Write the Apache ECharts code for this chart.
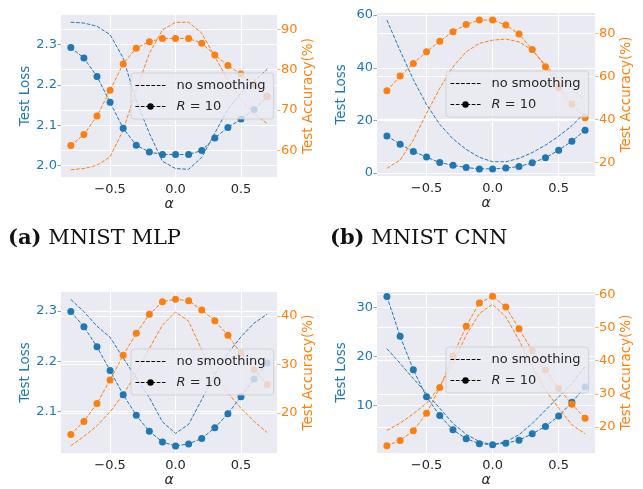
<!DOCTYPE html>
<html>
<head>
<meta charset="utf-8">
<script src="https://cdn.jsdelivr.net/npm/echarts@6/dist/echarts.min.js"></script>
<style>
html,body{margin:0;padding:0;background:#fff;}
#chart{width:643px;height:489px;}
</style>
</head>
<body>
<div id="chart"></div>
<script>
// ---------- data ----------
const alpha = [-0.8,-0.7,-0.6,-0.5,-0.4,-0.3,-0.2,-0.1,0.0,0.1,0.2,0.3,0.4,0.5,0.6,0.7];

// (a) MNIST MLP
const lossNoSmoothA = [2.356,2.354,2.346,2.325,2.267,2.160,2.080,2.010,1.992,1.990,2.020,2.080,2.140,2.180,2.210,2.239];
const lossR10A      = [2.293,2.267,2.221,2.157,2.092,2.050,2.033,2.027,2.027,2.027,2.037,2.068,2.094,2.115,2.139,2.171];
const accNoSmoothA  = [55.2,55.5,56.3,58.4,65.0,74.9,84.0,89.8,91.7,91.7,89.0,83.2,77.4,72.4,69.1,66.6];
const accR10A       = [61.2,63.9,68.5,74.9,81.4,85.3,86.9,87.7,87.7,87.7,86.5,83.6,81.0,78.9,76.3,73.3];

// (b) MNIST CNN
const lossNoSmoothB = [58.1,46.5,35.5,26.0,18.5,13.0,9.0,6.0,4.3,4.3,5.6,7.8,10.6,14.0,18.0,23.0];
const lossR10B      = [14.1,11.0,8.2,6.1,4.0,3.0,2.1,1.6,1.6,1.9,2.5,3.9,5.8,8.7,12.1,16.3];
const accNoSmoothB  = [17.4,21.2,30.5,42.9,54.5,64.5,71.5,75.4,76.9,77.4,76.1,72.3,65.3,59.1,54.5,49.1];
const accR10B       = [53.4,60.2,66.1,71.5,76.4,80.8,84.2,86.2,86.2,83.9,79.7,72.6,64.5,54.8,47.1,40.9];

// (c)
const lossNoSmoothC = [2.323,2.299,2.270,2.248,2.207,2.167,2.128,2.080,2.057,2.075,2.124,2.174,2.216,2.249,2.276,2.294];
const lossR10C      = [2.299,2.269,2.229,2.182,2.134,2.093,2.061,2.040,2.032,2.036,2.047,2.068,2.096,2.130,2.165,2.197];
const accNoSmoothC  = [13.3,15.2,17.4,20.3,23.8,28.2,33.3,38.1,40.8,38.9,33.0,27.8,24.1,21.0,18.3,16.0];
const accR10C       = [15.6,18.3,22.0,26.8,31.9,36.4,40.3,42.9,43.4,43.1,41.2,39.0,36.0,32.3,28.9,25.9];

// (d)
const lossNoSmoothD = [21.6,18.6,15.5,12.5,9.5,6.4,4.2,2.7,2.1,2.7,4.1,6.4,9.1,11.8,14.5,18.0];
const lossR10D      = [32.2,24.1,17.3,11.8,8.0,5.1,3.3,2.3,2.1,2.4,3.0,4.3,5.8,7.9,10.7,13.8];
const accNoSmoothD  = [19.0,21.2,24.0,27.2,32.2,39.2,47.7,54.2,57.0,53.2,46.2,38.2,31.2,25.7,20.7,18.0];
const accR10D       = [14.4,16.0,18.9,24.2,31.9,41.4,50.4,57.4,59.4,56.2,49.6,43.0,37.2,31.6,26.9,22.7];

// tick labels
const xTicks = [-0.5, 0.0, 0.5];
const lossTicksA = [2.0,2.1,2.2,2.3];  const accTicksA = [60,70,80,90];
const lossTicksB = [0,20,40,60];       const accTicksB = [20,40,60,80];
const lossTicksC = [2.1,2.2,2.3];      const accTicksC = [20,30,40];
const lossTicksD = [10,20,30];         const accTicksD = [20,30,40,50,60];

const legendNames = ['no smoothing', 'R = 10'];
const captionA = '(a)'; const titleA = 'MNIST MLP';
const captionB = '(b)'; const titleB = 'MNIST CNN';

// ---------- layout / style ----------
const BLUE = '#1f77b4', ORANGE = '#ff7f0e';
const FONT = 'DejaVu Sans';
const DASH = [3.7, 1.6];

const panels = [
  {grid:{left:61, top:15, width:216, height:162},
   loss:[lossNoSmoothA, lossR10A], acc:[accNoSmoothA, accR10A],
   lossRange:[1.971, 2.374], accRange:[53.4, 93.5], lossTicks:lossTicksA, accTicks:accTicksA, lossDec:1,
   legend:{left:131, top:73}},
  {grid:{left:377, top:13, width:218, height:163},
   loss:[lossNoSmoothB, lossR10B], acc:[accNoSmoothB, accR10B],
   lossRange:[-1.1, 60.8], accRange:[13.8, 89.5], lossTicks:lossTicksB, accTicks:accTicksB, lossDec:0,
   legend:{left:446, top:71}},
  {grid:{left:61, top:292, width:216, height:161},
   loss:[lossNoSmoothC, lossR10C], acc:[accNoSmoothC, accR10C],
   lossRange:[2.018, 2.338], accRange:[11.8, 44.9], lossTicks:lossTicksC, accTicks:accTicksC, lossDec:1,
   legend:{left:131, top:349}},
  {grid:{left:377, top:292, width:218, height:161},
   loss:[lossNoSmoothD, lossR10D], acc:[accNoSmoothD, accR10D],
   lossRange:[0.4, 33.1], accRange:[12.2, 60.7], lossTicks:lossTicksD, accTicks:accTicksD, lossDec:0,
   legend:{left:446, top:347}}
];

const pairs = arr => alpha.map((a, i) => [a, arr[i]]);

const grid = [], xAxis = [], yAxis = [], series = [], legend = [];

panels.forEach((p, k) => {
  grid.push(Object.assign({show:true, backgroundColor:'#EAEAF2', borderWidth:0}, p.grid));
  xAxis.push({
    type:'value', gridIndex:k, min:-0.875, max:0.775,
    axisLine:{show:false, onZero:false}, axisTick:{show:false, customValues:xTicks},
    axisLabel:{customValues:xTicks, color:'#262626', fontSize:13, fontFamily:FONT, margin:6,
      formatter: v => (v < 0 ? '\u2212' : '') + Math.abs(v).toFixed(1)},
    splitLine:{show:true, lineStyle:{color:'#ffffff', width:1}},
    name:'α', nameLocation:'middle', nameGap:19,
    nameTextStyle:{fontSize:14, fontStyle:'italic', fontFamily:FONT, color:'#262626'}
  });
  yAxis.push({
    type:'value', gridIndex:k, position:'left', min:p.lossRange[0], max:p.lossRange[1],
    axisLine:{show:false, onZero:false},
    axisTick:{show:true, length:3.5, customValues:p.lossTicks, lineStyle:{color:BLUE, width:1, opacity:0.6}},
    axisLabel:{customValues:p.lossTicks, color:BLUE, fontSize:13, fontFamily:FONT, margin:4,
      formatter: v => v.toFixed(p.lossDec)},
    splitLine:{show:true, lineStyle:{color:'#ffffff', width:1}},
    name:'Test Loss', nameLocation:'middle', nameGap:29, nameRotate:90,
    nameTextStyle:{fontSize:13.5, fontFamily:FONT, color:BLUE}
  });
  yAxis.push({
    type:'value', gridIndex:k, position:'right', min:p.accRange[0], max:p.accRange[1],
    axisLine:{show:false, onZero:false},
    axisTick:{show:true, length:3.5, customValues:p.accTicks, lineStyle:{color:ORANGE, width:1, opacity:0.6}},
    axisLabel:{customValues:p.accTicks, color:ORANGE, fontSize:13, fontFamily:FONT, margin:4,
      formatter: v => String(v)},
    splitLine:{show:true, lineStyle:{color:'#ffffff', width:1}},
    name:'Test Accuracy(%)', nameLocation:'middle', nameGap:22, nameRotate:90,
    nameTextStyle:{fontSize:13.5, fontFamily:FONT, color:ORANGE}
  });
  const yL = 2*k, yR = 2*k+1;
  const mk = (data, color, yIdx, dots, nm) => ({
    type:'line', name:nm, xAxisIndex:k, yAxisIndex:yIdx, data:pairs(data),
    symbol: dots ? 'circle' : 'none', symbolSize:7, showSymbol:dots,
    itemStyle:{color:color}, lineStyle:{color:color, width:1, type:DASH},
    animation:false, silent:true
  });
  series.push(mk(p.loss[0], BLUE, yL, false, 'lossNS'+k));
  series.push(mk(p.loss[1], BLUE, yL, true, 'lossR'+k));
  series.push(mk(p.acc[0], ORANGE, yR, false, 'accNS'+k));
  series.push(mk(p.acc[1], ORANGE, yR, true, 'accR'+k));
  legend.push({
    left:p.legend.left, top:p.legend.top, orient:'vertical',
    data:[{name:legendNames[0], itemStyle:{opacity:0}}, {name:legendNames[1]}],
    itemWidth:30, itemHeight:8, itemGap:8, padding:[6,8,6,4],
    backgroundColor:'rgba(234,234,242,0.8)', borderColor:'rgba(204,204,204,0.8)', borderWidth:1, borderRadius:3,
    selectedMode:false,
    lineStyle:{type:DASH, width:1},
    textStyle:{fontSize:13, fontFamily:FONT, color:'#262626', padding:[0,0,0,6],
      rich:{i:{fontStyle:'italic', fontSize:13, fontFamily:FONT, color:'#262626'}}},
    formatter: n => n === 'R = 10' ? '{i|R} = 10' : n
  });
});

// legend proxy series (black)
series.push({type:'line', name:legendNames[0], xAxisIndex:0, yAxisIndex:0, data:[],
  symbol:'none', itemStyle:{color:'#000'}, lineStyle:{color:'#000', width:1, type:DASH}});
series.push({type:'line', name:legendNames[1], xAxisIndex:0, yAxisIndex:0, data:[],
  symbol:'circle', symbolSize:6, itemStyle:{color:'#000'}, lineStyle:{color:'#000', width:1, type:DASH}});

const capStyle = (text, x) => ({
  type:'text', left:x, top:228,
  style:{text:text, fill:'#111', font:'21px "DejaVu Serif"',
    rich:{b:{fontWeight:'bold', fontSize:21, fontFamily:'DejaVu Serif', fill:'#111'},
          n:{fontSize:21, fontFamily:'DejaVu Serif', fill:'#111'}}}
});

const chart = echarts.init(document.getElementById('chart'), null, {renderer:'canvas'});
chart.setOption({
  animation:false,
  backgroundColor:'#ffffff',
  grid, xAxis, yAxis, series, legend,
  graphic:[
    capStyle('{b|' + captionA + '} {n|' + titleA + '}', 8),
    capStyle('{b|' + captionB + '} {n|' + titleB + '}', 330)
  ]
});
</script>
</body>
</html>
